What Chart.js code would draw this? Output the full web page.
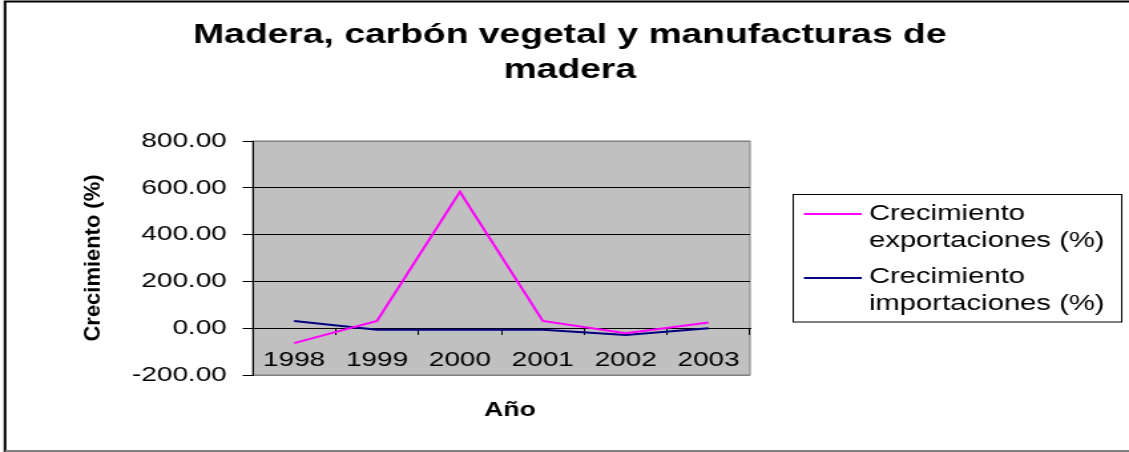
<!DOCTYPE html>
<html>
<head>
<meta charset="utf-8">
<script src="https://cdn.jsdelivr.net/npm/chart.js@4.4.0/dist/chart.umd.min.js"></script>
<style>
  html, body { margin: 0; padding: 0; background: #fff; }
</style>
</head>
<body>
<!-- le canvas est étiré en largeur, comme le graphique d'origine -->
<canvas id="myChart" width="849" height="452" style="display:block;width:1129px;height:452px"></canvas>
<script>
// debut donnees
const annees = ["1998", "1999", "2000", "2001", "2002", "2003"];
const exportations = [-64, 31, 583, 31, -21, 24];
const importations = [31, -7, -7, -7, -29, 0];
const ticksY = [-200, 0, 200, 400, 600, 800];
const titre = ["Madera, carbón vegetal y manufacturas de", "madera"];
const titreY = "Crecimiento (%)";
const titreX = "Año";
const legende = [
  ["Crecimiento", "exportaciones (%)"],
  ["Crecimiento", "importaciones (%)"],
];
// fin donnees

const data = {
  labels: annees,
  datasets: [
    {
      label: legende[0].join(" "),
      data: exportations,
      borderColor: "#FF00FF",
      borderWidth: 2,
      pointRadius: 0,
      tension: 0,
      fill: false,
    },
    {
      label: legende[1].join(" "),
      data: importations,
      borderColor: "#000080",
      borderWidth: 2,
      pointRadius: 0,
      tension: 0,
      fill: false,
    },
  ],
};

// fond, cadre, titres et legende
const decor = {
  id: "decor",
  beforeDraw(chart) {
    const ctx = chart.ctx;
    const a = chart.chartArea;
    ctx.save();
    ctx.fillStyle = "#fff";
    ctx.fillRect(0, 0, chart.width, chart.height);
    // cadre exterieur
    ctx.strokeStyle = "#000";
    ctx.lineWidth = 2;
    ctx.beginPath();
    ctx.moveTo(3.8, 452);
    ctx.lineTo(3.8, 1.5);
    ctx.lineTo(chart.width, 1.5);
    ctx.stroke();
    ctx.strokeStyle = "#808080";
    ctx.beginPath();
    ctx.moveTo(3.8, 451);
    ctx.lineTo(chart.width, 451);
    ctx.stroke();
    // zone de trace grise
    ctx.fillStyle = "#C0C0C0";
    ctx.fillRect(a.left, a.top, a.width, a.height);
    ctx.strokeStyle = "#808080";
    ctx.lineWidth = 1;
    ctx.strokeRect(a.left, a.top, a.width, a.height);
    ctx.restore();
  },
  afterDraw(chart) {
    const ctx = chart.ctx;
    ctx.save();
    ctx.fillStyle = "#000";
    // titre
    ctx.font = "bold 28px Arial";
    ctx.textAlign = "center";
    ctx.textBaseline = "alphabetic";
    ctx.fillText(titre[0], 428.5, 43);
    ctx.fillText(titre[1], 428.5, 78);
    // titre axe x
    ctx.font = "bold 20px Arial";
    ctx.fillText(titreX, 383.5, 416);
    // titre axe y
    ctx.save();
    ctx.translate(70, 258);
    ctx.rotate(-Math.PI / 2);
    ctx.scale(1.29, 1);
    ctx.font = "bold 17px Arial";
    ctx.textBaseline = "middle";
    ctx.fillText(titreY, 0, 0);
    ctx.restore();
    // legende
    ctx.strokeStyle = "#000";
    ctx.lineWidth = 1;
    ctx.strokeRect(596.5, 194.5, 247, 127.5);
    ctx.font = "22px Arial";
    ctx.textAlign = "left";
    const lignesY = [214, 278];
    const bases = [[220, 246.7], [283.3, 310]];
    chart.data.datasets.forEach((ds, i) => {
      ctx.strokeStyle = ds.borderColor;
      ctx.lineWidth = 2;
      ctx.beginPath();
      ctx.moveTo(604.5, lignesY[i]);
      ctx.lineTo(648, lignesY[i]);
      ctx.stroke();
      legende[i].forEach((txt, j) => ctx.fillText(txt, 653.4, bases[i][j]));
    });
    ctx.restore();
  },
};

const config = {
  type: "line",
  data: data,
  options: {
    responsive: false,
    animation: false,
    devicePixelRatio: 1,
    layout: {
      padding: { top: 141, bottom: 77, left: 0, right: 285 },
    },
    plugins: {
      legend: { display: false },
      title: { display: false },
      tooltip: { enabled: false },
    },
    scales: {
      x: {
        position: { y: 0 }, // axe des categories sur le zero
        offset: true,
        grid: {
          offset: true,
          drawOnChartArea: false,
          drawTicks: true,
          tickLength: 6,
          color: "#000",
        },
        border: { display: true, color: "#000", width: 1 },
        ticks: {
          color: "#000",
          font: { family: "Arial", size: 21 },
          padding: 13,
          maxRotation: 0,
          autoSkip: false,
        },
        afterFit(scale) {
          scale.height = 0;
        },
      },
      y: {
        min: -200,
        max: 800,
        afterBuildTicks(scale) {
          scale.ticks = ticksY.map((v) => ({ value: v }));
        },
        grid: {
          color: (c) =>
            c.tick && (c.tick.value === 800 || c.tick.value === -200) ? "#808080" : "#000",
          tickColor: "#000",
          tickLength: 7.5,
          lineWidth: 1,
        },
        border: { color: "#000", width: 1 },
        ticks: {
          color: "#000",
          font: { family: "Arial", size: 21 },
          padding: 12,
          callback: (v) => Number(v).toFixed(2),
        },
        afterFit(scale) {
          scale.width = 190;
        },
      },
    },
  },
  plugins: [decor],
};

let context = document.getElementById("myChart").getContext("2d");
let chart = new Chart(context, config);
</script>
</body>
</html>
